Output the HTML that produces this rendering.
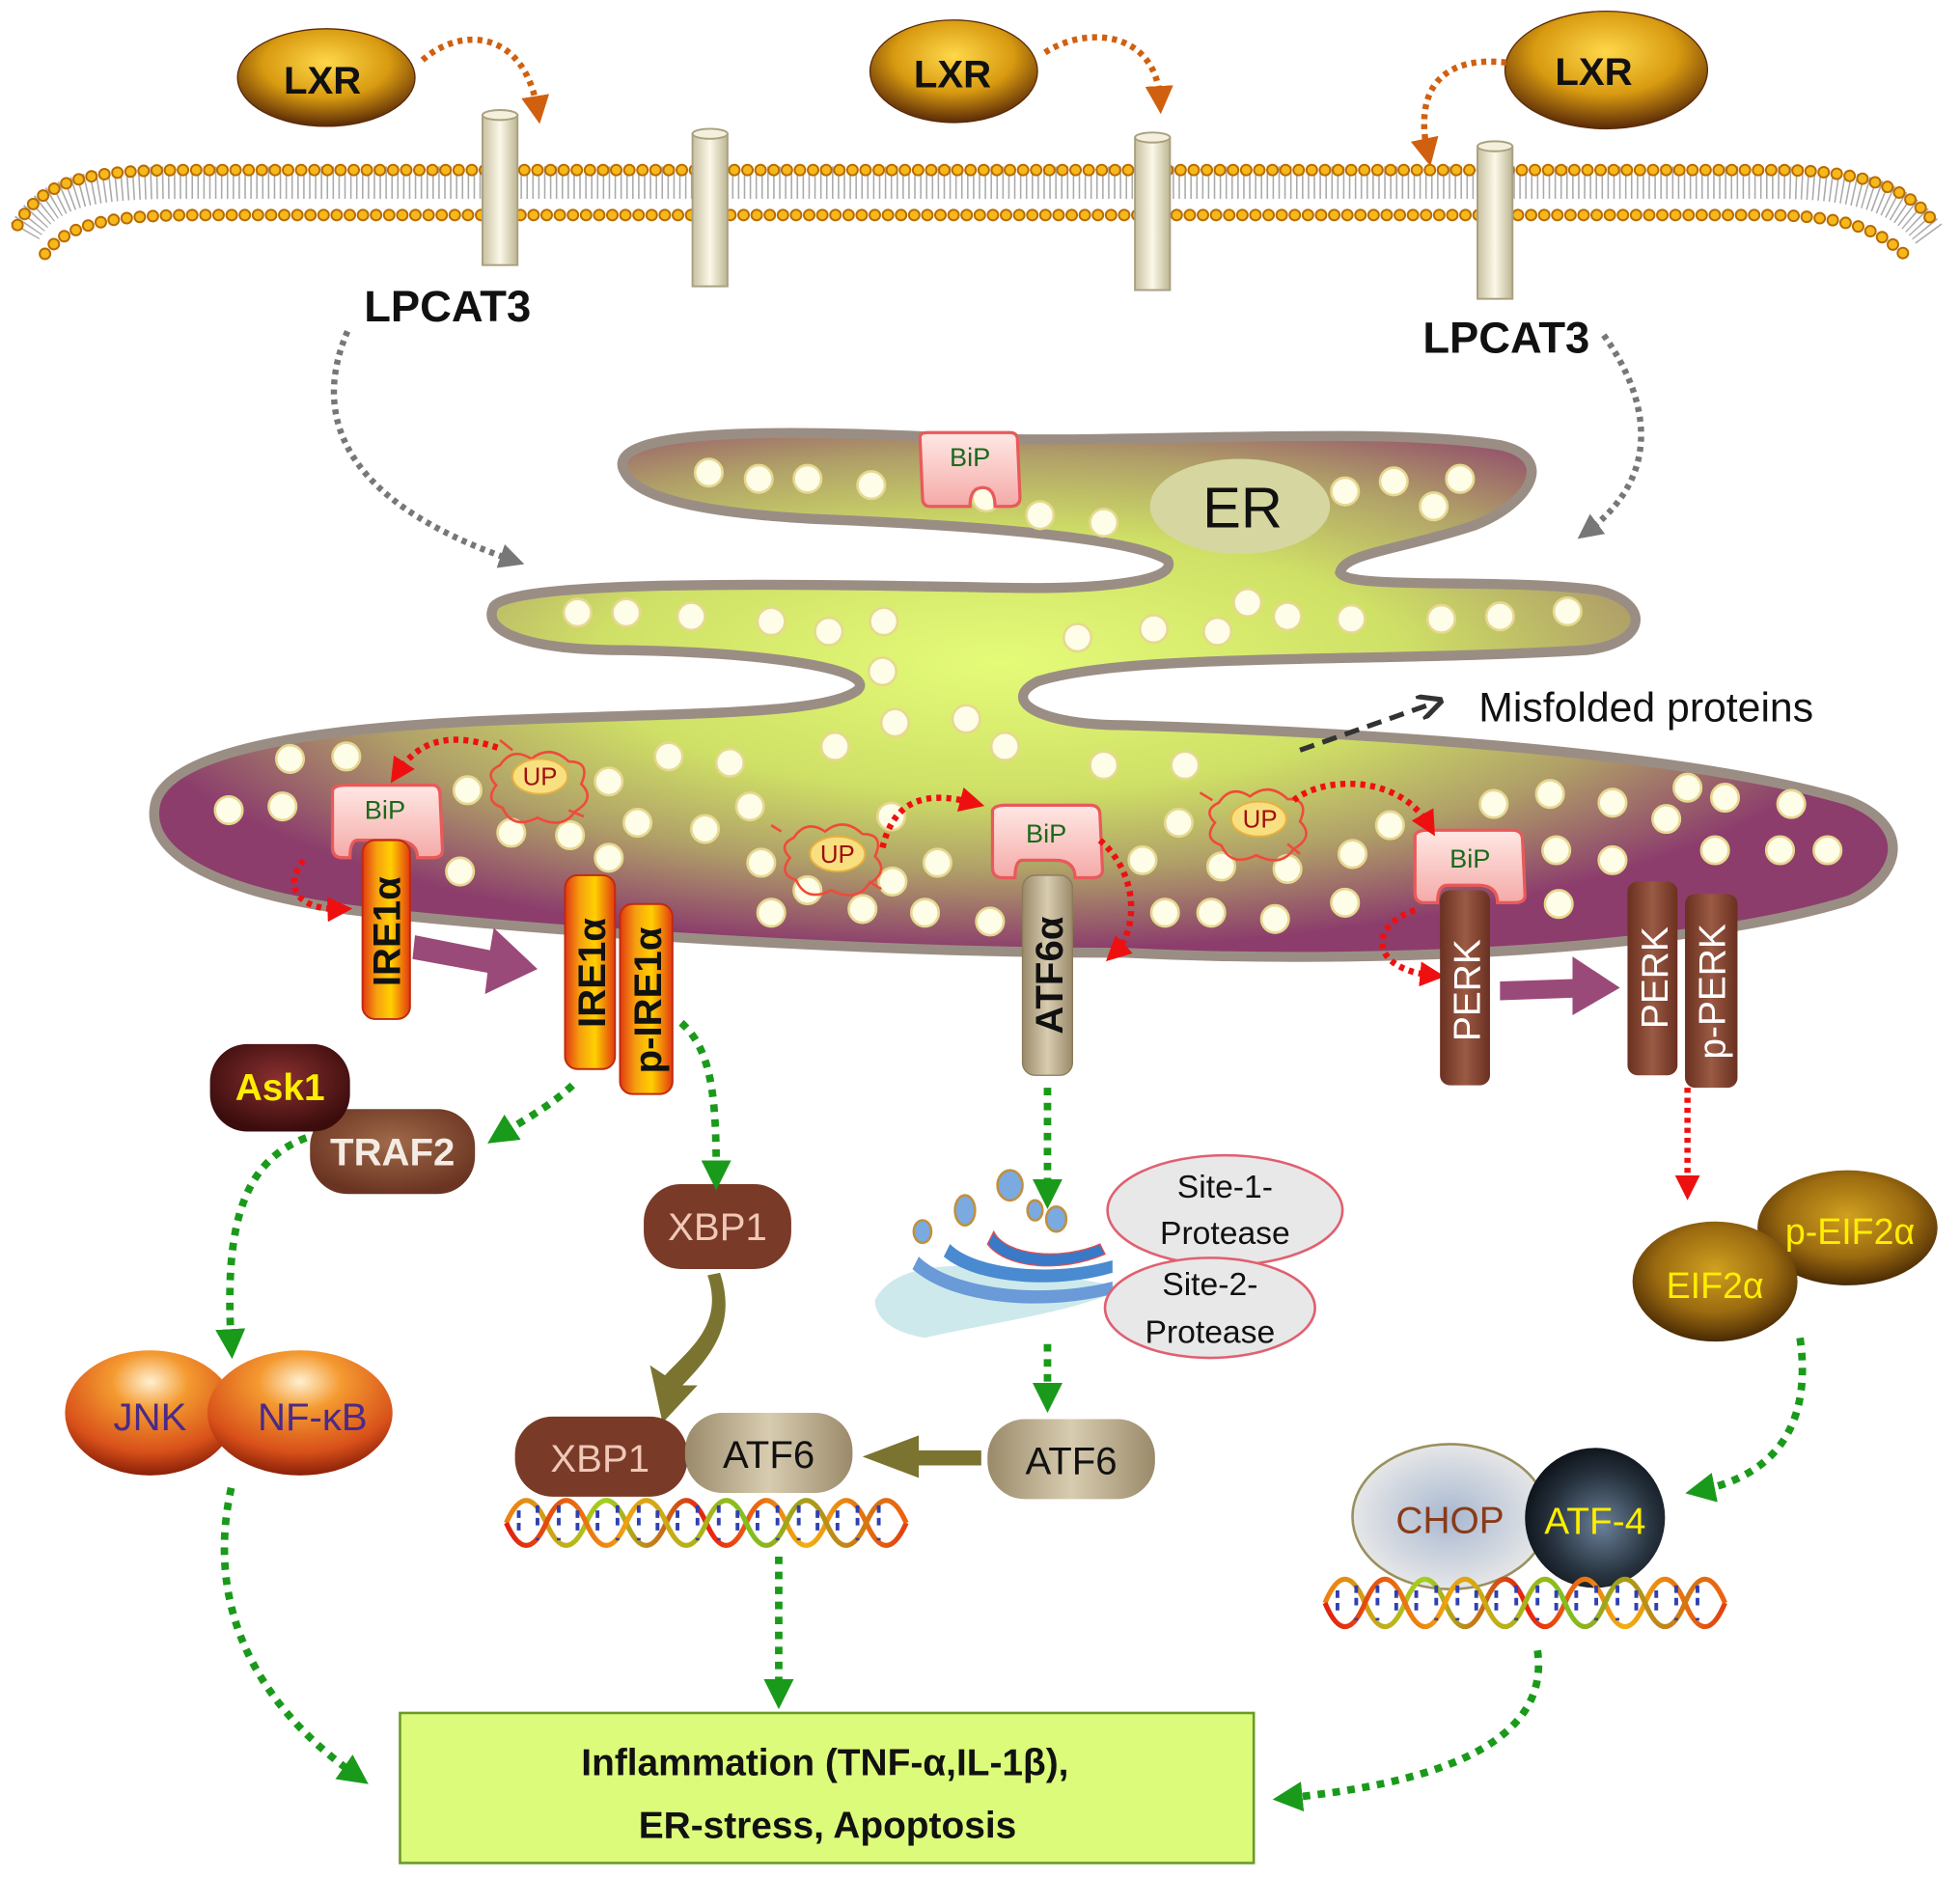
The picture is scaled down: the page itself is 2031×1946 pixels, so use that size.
<!DOCTYPE html>
<html><head><meta charset="utf-8"><style>
html,body{margin:0;padding:0;background:#fff;}
svg{display:block;}
text{font-family:"Liberation Sans",Arial,sans-serif;}
</style></head><body>
<svg width="2031" height="1946" viewBox="0 0 1568 1502" preserveAspectRatio="none" xmlns="http://www.w3.org/2000/svg">
<defs>
<radialGradient id="lxr" cx="50%" cy="35%" r="65%"><stop offset="0" stop-color="#ffd84a"/><stop offset="0.55" stop-color="#d89a10"/><stop offset="1" stop-color="#5a2a08"/></radialGradient>
<linearGradient id="cyl" x1="0" x2="1"><stop offset="0" stop-color="#c8c0a0"/><stop offset="0.5" stop-color="#fbf8e8"/><stop offset="1" stop-color="#bdb592"/></linearGradient>
<radialGradient id="er" gradientUnits="userSpaceOnUse" cx="800" cy="530" r="720" gradientTransform="translate(800,530) scale(1,0.32) translate(-800,-530)"><stop offset="0" stop-color="#e4fb78"/><stop offset="0.45" stop-color="#cfe066"/><stop offset="0.72" stop-color="#b0a068"/><stop offset="1" stop-color="#8c3d6c"/></radialGradient>
<linearGradient id="ire" x1="0" x2="1"><stop offset="0" stop-color="#e23a10"/><stop offset="0.3" stop-color="#f6a010"/><stop offset="0.6" stop-color="#ffd000"/><stop offset="1" stop-color="#e23a10"/></linearGradient>
<linearGradient id="atf" x1="0" x2="1"><stop offset="0" stop-color="#9a8a6a"/><stop offset="0.5" stop-color="#d8ccb0"/><stop offset="1" stop-color="#9a8a6a"/></linearGradient>
<linearGradient id="perk" x1="0" x2="1"><stop offset="0" stop-color="#6a3020"/><stop offset="0.5" stop-color="#9a5a44"/><stop offset="1" stop-color="#6a3020"/></linearGradient>
<linearGradient id="bip" x1="0" y1="0" x2="0" y2="1"><stop offset="0" stop-color="#ffe8e4"/><stop offset="1" stop-color="#f4aaa8"/></linearGradient>
<radialGradient id="brownball" cx="50%" cy="40%" r="60%"><stop offset="0" stop-color="#a06a4a"/><stop offset="1" stop-color="#6a3422"/></radialGradient>
<radialGradient id="ask" cx="50%" cy="40%" r="60%"><stop offset="0" stop-color="#8a3030"/><stop offset="1" stop-color="#3a0c0c"/></radialGradient>
<radialGradient id="jnk" cx="50%" cy="25%" r="75%"><stop offset="0" stop-color="#fff0d0"/><stop offset="0.3" stop-color="#f49a30"/><stop offset="0.75" stop-color="#d8501a"/><stop offset="1" stop-color="#8a2008"/></radialGradient>
<radialGradient id="eif" cx="50%" cy="40%" r="60%"><stop offset="0" stop-color="#d0a020"/><stop offset="0.6" stop-color="#9a6a10"/><stop offset="1" stop-color="#4a2a04"/></radialGradient>
<radialGradient id="atf4" cx="55%" cy="55%" r="60%"><stop offset="0" stop-color="#6a8098"/><stop offset="0.6" stop-color="#283440"/><stop offset="1" stop-color="#0a0e14"/></radialGradient>
<radialGradient id="chop" cx="50%" cy="50%" r="55%"><stop offset="0" stop-color="#a8b8d0"/><stop offset="1" stop-color="#ecebea"/></radialGradient>
<linearGradient id="dna1" x1="0" x2="1"><stop offset="0" stop-color="#f08010"/><stop offset="0.25" stop-color="#a0d020"/><stop offset="0.5" stop-color="#e82010"/><stop offset="0.75" stop-color="#f0b010"/><stop offset="1" stop-color="#e04010"/></linearGradient>
<linearGradient id="dna2" x1="0" x2="1"><stop offset="0" stop-color="#e02010"/><stop offset="0.3" stop-color="#f0a010"/><stop offset="0.6" stop-color="#80c020"/><stop offset="1" stop-color="#f06010"/></linearGradient>
<marker id="ag" viewBox="0 0 10 10" refX="5" refY="5" markerWidth="4" markerHeight="4" orient="auto"><path d="M0,0L10,5L0,10z" fill="#1a9a1a"/></marker>
<marker id="ar" viewBox="0 0 10 10" refX="5" refY="5" markerWidth="4" markerHeight="4" orient="auto"><path d="M0,0L10,5L0,10z" fill="#ee1010"/></marker>
<marker id="ao" viewBox="0 0 10 10" refX="5" refY="5" markerWidth="4.5" markerHeight="4.5" orient="auto"><path d="M0,0L10,5L0,10z" fill="#d06010"/></marker>
<marker id="agr" viewBox="0 0 10 10" refX="5" refY="5" markerWidth="4" markerHeight="4" orient="auto"><path d="M0,0L10,5L0,10z" fill="#777"/></marker>
<marker id="ak" viewBox="0 0 10 10" refX="5" refY="5" markerWidth="5" markerHeight="5" orient="auto"><path d="M0,0L10,5L0,10" fill="none" stroke="#333" stroke-width="2"/></marker>
</defs>

<path d="M20,185 C40,150 80,146 150,146 L1420,146 C1490,146 1525,160 1545,190" fill="none" stroke="#aaa" stroke-width="26" stroke-dasharray="1.2 3.5"/>
<path d="M14,180 C35,142 75,136 150,136 L1420,136 C1495,136 1530,152 1550,182" fill="none" stroke="#b86a00" stroke-width="10" stroke-dasharray="0 10.5" stroke-linecap="round"/>
<path d="M14,180 C35,142 75,136 150,136 L1420,136 C1495,136 1530,152 1550,182" fill="none" stroke="#f6b81a" stroke-width="7" stroke-dasharray="0 10.5" stroke-linecap="round"/>
<path d="M36,203 C55,178 90,172 160,172 L1410,172 C1480,172 1505,185 1525,205" fill="none" stroke="#b86a00" stroke-width="10" stroke-dasharray="0 10.5" stroke-linecap="round"/>
<path d="M36,203 C55,178 90,172 160,172 L1410,172 C1480,172 1505,185 1525,205" fill="none" stroke="#f6b81a" stroke-width="7" stroke-dasharray="0 10.5" stroke-linecap="round"/>

<g stroke="#a8a080" stroke-width="1.5">
<rect x="386" y="92" width="28" height="120" fill="url(#cyl)"/><ellipse cx="400" cy="92" rx="14" ry="4" fill="#f4f0dc"/>
<rect x="554" y="107" width="28" height="122" fill="url(#cyl)"/><ellipse cx="568" cy="107" rx="14" ry="4" fill="#f4f0dc"/>
<rect x="908" y="110" width="28" height="122" fill="url(#cyl)"/><ellipse cx="922" cy="110" rx="14" ry="4" fill="#f4f0dc"/>
<rect x="1182" y="117" width="28" height="122" fill="url(#cyl)"/><ellipse cx="1196" cy="117" rx="14" ry="4" fill="#f4f0dc"/>
</g>

<ellipse cx="261" cy="62" rx="71" ry="39" fill="url(#lxr)" stroke="#5a2a08" stroke-width="1"/>
<text x="258" y="75" font-size="31" font-weight="bold" text-anchor="middle" fill="#111">LXR</text>
<ellipse cx="763" cy="57" rx="67" ry="41" fill="url(#lxr)" stroke="#5a2a08" stroke-width="1"/>
<text x="762" y="70" font-size="31" font-weight="bold" text-anchor="middle" fill="#111">LXR</text>
<ellipse cx="1285" cy="56" rx="81" ry="47" fill="url(#lxr)" stroke="#5a2a08" stroke-width="1"/>
<text x="1275" y="68" font-size="31" font-weight="bold" text-anchor="middle" fill="#111">LXR</text>
<g fill="none" stroke="#d06010" stroke-width="5" stroke-dasharray="4 4">
<path d="M338,48 C370,20 420,25 430,88" marker-end="url(#ao)"/>
<path d="M836,42 C870,20 925,25 928,80" marker-end="url(#ao)"/>
<path d="M1205,50 C1160,45 1130,65 1142,122" marker-end="url(#ao)"/>
</g>

<text x="358" y="257" font-size="35" font-weight="bold" text-anchor="middle" fill="#111">LPCAT3</text>
<text x="1205" y="282" font-size="35" font-weight="bold" text-anchor="middle" fill="#111">LPCAT3</text>
<g fill="none" stroke="#777" stroke-width="5" stroke-dasharray="4 4">
<path d="M278,265 C250,330 270,400 410,448" marker-end="url(#agr)"/>
<path d="M1283,268 C1320,320 1330,380 1270,425" marker-end="url(#agr)"/>
</g>

<path d="M500,378 C480,345 600,342 760,350 C900,356 1100,340 1200,356 C1245,366 1225,402 1180,420 C1120,440 1075,442 1072,458 C1078,472 1200,462 1278,472 C1322,482 1318,515 1268,520 C1100,530 900,522 830,545 C800,560 830,580 900,580 C1100,586 1350,602 1478,640 C1530,660 1522,700 1480,720 C1350,760 1100,772 900,762 C700,762 450,746 300,730 C200,720 110,690 125,640 C140,600 250,582 400,576 C550,570 660,572 686,552 C702,536 620,522 500,520 C420,520 385,505 395,485 C410,465 600,466 800,470 C900,472 942,462 934,448 C905,430 780,420 650,415 C560,410 510,398 500,378 Z" fill="url(#er)" stroke="#9a8e84" stroke-width="8"/>
<g fill="#fdfde8" stroke="#e6d890" stroke-width="2">
<circle cx="567" cy="378" r="11"/><circle cx="607" cy="383" r="11"/><circle cx="646" cy="383" r="11"/><circle cx="697" cy="388" r="11"/><circle cx="789" cy="398" r="11"/><circle cx="832" cy="412" r="11"/><circle cx="883" cy="418" r="11"/><circle cx="1076" cy="393" r="11"/><circle cx="1115" cy="385" r="11"/><circle cx="1147" cy="405" r="11"/><circle cx="1168" cy="383" r="11"/>
<circle cx="462" cy="490" r="11"/><circle cx="501" cy="490" r="11"/><circle cx="553" cy="493" r="11"/><circle cx="617" cy="497" r="11"/><circle cx="663" cy="505" r="11"/><circle cx="707" cy="497" r="11"/><circle cx="706" cy="537" r="11"/><circle cx="862" cy="510" r="11"/><circle cx="923" cy="503" r="11"/><circle cx="974" cy="505" r="11"/><circle cx="998" cy="482" r="11"/><circle cx="1030" cy="493" r="11"/><circle cx="1081" cy="495" r="11"/><circle cx="1153" cy="495" r="11"/><circle cx="1200" cy="493" r="11"/><circle cx="1254" cy="489" r="11"/>
<circle cx="716" cy="578" r="11"/><circle cx="773" cy="575" r="11"/><circle cx="804" cy="597" r="11"/><circle cx="668" cy="597" r="11"/>
<circle cx="232" cy="607" r="11"/><circle cx="277" cy="605" r="11"/><circle cx="183" cy="648" r="11"/><circle cx="226" cy="645" r="11"/><circle cx="374" cy="632" r="11"/><circle cx="487" cy="625" r="11"/><circle cx="535" cy="605" r="11"/><circle cx="584" cy="610" r="11"/><circle cx="600" cy="645" r="11"/><circle cx="487" cy="686" r="11"/><circle cx="456" cy="668" r="11"/><circle cx="409" cy="666" r="11"/><circle cx="510" cy="658" r="11"/><circle cx="564" cy="663" r="11"/><circle cx="368" cy="697" r="11"/><circle cx="609" cy="690" r="11"/><circle cx="646" cy="712" r="11"/><circle cx="690" cy="727" r="11"/><circle cx="714" cy="705" r="11"/><circle cx="740" cy="730" r="11"/><circle cx="750" cy="690" r="11"/><circle cx="617" cy="730" r="11"/><circle cx="792" cy="737" r="11"/><circle cx="883" cy="612" r="11"/><circle cx="914" cy="688" r="11"/><circle cx="943" cy="658" r="11"/><circle cx="977" cy="693" r="11"/><circle cx="932" cy="730" r="11"/><circle cx="969" cy="730" r="11"/><circle cx="1020" cy="735" r="11"/><circle cx="1030" cy="695" r="11"/><circle cx="1082" cy="683" r="11"/><circle cx="1112" cy="660" r="11"/><circle cx="1076" cy="722" r="11"/><circle cx="948" cy="612" r="11"/><circle cx="1195" cy="643" r="11"/><circle cx="1240" cy="635" r="11"/><circle cx="1290" cy="642" r="11"/><circle cx="1333" cy="655" r="11"/><circle cx="1350" cy="630" r="11"/><circle cx="1380" cy="638" r="11"/><circle cx="1433" cy="643" r="11"/><circle cx="1424" cy="680" r="11"/><circle cx="1462" cy="680" r="11"/><circle cx="1245" cy="680" r="11"/><circle cx="1290" cy="688" r="11"/><circle cx="1247" cy="723" r="11"/><circle cx="1372" cy="680" r="11"/><circle cx="713" cy="653" r="11"/>
</g>
<ellipse cx="992" cy="405" rx="72" ry="38" fill="#d6d6a0"/>
<text x="994" y="422" font-size="46" text-anchor="middle" fill="#111">ER</text>

<path d="M1040,600 L1145,563" stroke="#333" stroke-width="4" stroke-dasharray="12 7" fill="none" marker-end="url(#ak)"/>
<text x="1183" y="577" font-size="33" fill="#111">Misfolded proteins</text>

<g stroke="#e85a5a" stroke-width="2.5" fill="url(#bip)">
<path d="M736,350 Q736,346 742,346 L808,346 Q814,346 814,352 L816,398 Q816,405 808,405 L796,405 Q796,390 786,390 Q776,390 776,405 L744,405 Q738,405 738,398 Z"/>
<path d="M266,632 Q268,628 276,628 L346,628 Q352,628 352,636 L354,680 Q354,686 346,686 L334,686 Q334,672 314,672 L286,672 Q280,672 280,686 L274,686 Q266,686 266,678 Z"/>
<path d="M794,648 Q796,644 804,644 L872,644 Q880,644 880,652 L882,696 Q882,702 874,702 L860,702 Q860,688 844,688 L818,688 Q812,688 812,702 L802,702 Q794,702 794,694 Z"/>
<path d="M1132,668 Q1134,664 1142,664 L1210,664 Q1218,664 1218,672 L1220,716 Q1220,722 1212,722 L1198,722 Q1198,708 1182,708 L1158,708 Q1150,708 1150,722 L1140,722 Q1132,722 1132,714 Z"/>
</g>
<g font-size="21" fill="#1a6a1a" text-anchor="middle">
<text x="776" y="373">BiP</text><text x="308" y="655">BiP</text><text x="837" y="674">BiP</text><text x="1176" y="694">BiP</text>
</g>

<g fill="none" stroke="#f04a3a" stroke-width="2">
<path d="M400,612 q10,-15 25,-5 q15,-12 30,2 q18,0 10,18 q12,12 -5,22 q-10,15 -30,5 q-20,10 -28,-8 q-15,-5 -5,-18 q-10,-10 3,-16z M410,600 l-10,-8 M455,648 l12,5"/>
<path d="M635,670 q10,-15 25,-5 q15,-12 30,2 q18,0 10,18 q12,12 -5,22 q-10,15 -30,5 q-20,10 -28,-8 q-15,-5 -5,-18 q-10,-10 3,-16z M625,665 l-8,-5 M695,705 l10,6"/>
<path d="M975,642 q10,-15 25,-5 q15,-12 30,2 q18,0 10,18 q12,12 -5,22 q-10,15 -30,5 q-20,10 -28,-8 q-15,-5 -5,-18 q-10,-10 3,-16z M970,640 l-10,-6 M1030,675 l10,8"/>
</g>
<g fill="#f8e080" stroke="#e8b040" stroke-width="1.5">
<ellipse cx="432" cy="621" rx="22" ry="14"/><ellipse cx="670" cy="683" rx="22" ry="14"/><ellipse cx="1007" cy="655" rx="22" ry="14"/>
</g>
<g font-size="20" fill="#a01010" text-anchor="middle">
<text x="432" y="628">UP</text><text x="670" y="690">UP</text><text x="1008" y="662">UP</text>
</g>

<g fill="none" stroke="#ee1010" stroke-width="5" stroke-dasharray="4 4">
<path d="M398,598 C360,585 335,592 318,618" marker-end="url(#ar)"/>
<path d="M243,688 C225,710 240,728 272,727" marker-end="url(#ar)"/>
<path d="M706,678 C715,640 740,632 778,642" marker-end="url(#ar)"/>
<path d="M880,672 C912,700 910,745 892,762" marker-end="url(#ar)"/>
<path d="M1035,640 C1060,620 1120,620 1143,660" marker-end="url(#ar)"/>
<path d="M1132,728 C1095,740 1095,775 1146,780" marker-end="url(#ar)"/>
<path d="M1350,870 L1350,950" marker-end="url(#ar)"/>
</g>

<rect x="290" y="672" width="38" height="143" rx="10" fill="url(#ire)" stroke="#c02a10" stroke-width="1.5"/>
<text transform="translate(320,745) rotate(-90)" font-size="31" font-weight="bold" text-anchor="middle" fill="#111">IRE1α</text>
<rect x="452" y="700" width="40" height="155" rx="10" fill="url(#ire)" stroke="#c02a10" stroke-width="1.5"/>
<text transform="translate(484,778) rotate(-90)" font-size="31" font-weight="bold" text-anchor="middle" fill="#111">IRE1α</text>
<rect x="496" y="723" width="42" height="152" rx="10" fill="url(#ire)" stroke="#c02a10" stroke-width="1.5"/>
<text transform="translate(529,800) rotate(-90)" font-size="31" font-weight="bold" text-anchor="middle" fill="#111">p-IRE1α</text>
<rect x="818" y="700" width="40" height="160" rx="10" fill="url(#atf)" stroke="#8a7a5a" stroke-width="1"/>
<text transform="translate(850,780) rotate(-90)" font-size="31" font-weight="bold" text-anchor="middle" fill="#111">ATF6α</text>
<rect x="1152" y="712" width="40" height="156" rx="8" fill="url(#perk)"/>
<text transform="translate(1184,792) rotate(-90)" font-size="30" text-anchor="middle" fill="#fff">PERK</text>
<rect x="1302" y="705" width="40" height="155" rx="8" fill="url(#perk)"/>
<text transform="translate(1334,782) rotate(-90)" font-size="30" text-anchor="middle" fill="#fff">PERK</text>
<rect x="1348" y="715" width="42" height="155" rx="8" fill="url(#perk)"/>
<text transform="translate(1380,793) rotate(-90)" font-size="30" text-anchor="middle" fill="#fff">p-PERK</text>

<path d="M332,748 L392,760 L395,742 L430,775 L388,795 L390,778 L330,767 Z" fill="#9a4a78"/>
<path d="M1200,785 L1258,783 L1258,765 L1296,790 L1258,812 L1258,798 L1200,800 Z" fill="#9a4a78"/>

<rect x="248" y="887" width="132" height="68" rx="30" fill="url(#brownball)"/>
<text x="314" y="932" font-size="31" font-weight="bold" text-anchor="middle" fill="#f4ece4">TRAF2</text>
<rect x="168" y="835" width="112" height="70" rx="30" fill="url(#ask)"/>
<text x="224" y="880" font-size="30" font-weight="bold" text-anchor="middle" fill="#ffee00">Ask1</text>

<rect x="515" y="947" width="118" height="68" rx="30" fill="#7a3a28"/>
<text x="574" y="992" font-size="31" text-anchor="middle" fill="#f0c8b8">XBP1</text>

<ellipse cx="120" cy="1130" rx="68" ry="50" fill="url(#jnk)"/>
<ellipse cx="240" cy="1130" rx="74" ry="50" fill="url(#jnk)"/>
<text x="120" y="1144" font-size="31" text-anchor="middle" fill="#4a2a88">JNK</text>
<text x="250" y="1144" font-size="31" text-anchor="middle" fill="#4a2a88">NF-κB</text>

<path d="M700,1040 C720,1000 800,1010 900,1030 C860,1050 780,1060 740,1070 C710,1065 700,1052 700,1040Z" fill="#b8e0e4" opacity="0.7"/>
<path d="M735,1005 C760,1030 830,1040 890,1025 L890,1035 C830,1050 760,1042 730,1015Z" fill="#6a9ad8"/>
<path d="M760,995 C780,1015 840,1022 890,1008 L890,1018 C840,1032 780,1026 755,1005Z" fill="#4a8ad0"/>
<path d="M795,985 C805,1005 850,1008 880,995 L884,1003 C850,1018 805,1015 790,995Z" fill="#3a78c8" stroke="#e05050" stroke-width="1"/>
<g fill="#7aaae0" stroke="#c09040" stroke-width="2">
<ellipse cx="772" cy="968" rx="8" ry="12"/><ellipse cx="808" cy="948" rx="10" ry="12"/><ellipse cx="828" cy="968" rx="6" ry="8"/><ellipse cx="845" cy="975" rx="8" ry="10"/><ellipse cx="738" cy="985" rx="7" ry="9"/>
</g>
<ellipse cx="980" cy="968" rx="94" ry="44" fill="#e8e8e8" stroke="#e06070" stroke-width="2"/>
<text x="980" y="958" font-size="26" text-anchor="middle" fill="#111">Site-1-</text>
<text x="980" y="995" font-size="26" text-anchor="middle" fill="#111">Protease</text>
<ellipse cx="968" cy="1046" rx="84" ry="40" fill="#e8e8e8" stroke="#e06070" stroke-width="2"/>
<text x="968" y="1036" font-size="26" text-anchor="middle" fill="#111">Site-2-</text>
<text x="968" y="1074" font-size="26" text-anchor="middle" fill="#111">Protease</text>

<rect x="790" y="1135" width="134" height="64" rx="30" fill="url(#atf)"/>
<text x="857" y="1179" font-size="31" text-anchor="middle" fill="#111">ATF6</text>
<path d="M785,1160 L735,1160 L735,1148 L690,1165 L735,1182 L735,1172 L785,1172Z" fill="#7a7430"/>
<path d="M566,1020 C580,1060 550,1080 532,1100 L520,1092 L530,1138 L558,1108 L546,1108 C568,1085 590,1060 576,1018Z" fill="#7a7430"/>

<rect x="412" y="1133" width="138" height="64" rx="30" fill="#7a3a28"/>
<text x="480" y="1177" font-size="31" text-anchor="middle" fill="#f0c8b8">XBP1</text>
<rect x="548" y="1130" width="134" height="64" rx="30" fill="url(#atf)"/>
<text x="615" y="1174" font-size="31" text-anchor="middle" fill="#111">ATF6</text>

<g fill="none" stroke-width="4">
<path d="M405,1230 q16,-36 32,0 t32,0 t32,0 t32,0 t32,0 t32,0 t32,0 t32,0 t32,0 t32,0" stroke="url(#dna1)" transform="translate(0,-12)"/>
<path d="M405,1218 q16,36 32,0 t32,0 t32,0 t32,0 t32,0 t32,0 t32,0 t32,0 t32,0 t32,0" stroke="url(#dna2)"/>
</g>
<path d="M415,1208 v20 M430,1204 v28 M447,1204 v28 M462,1208 v20 M478,1208 v20 M494,1204 v28 M511,1204 v28 M526,1208 v20 M542,1208 v20 M558,1204 v28 M575,1204 v28 M590,1208 v20 M606,1208 v20 M622,1204 v28 M639,1204 v28 M654,1208 v20 M670,1208 v20 M686,1204 v28 M703,1204 v28" stroke="#3040b0" stroke-width="3" stroke-dasharray="6 4 6 10"/>

<ellipse cx="1478" cy="982" rx="72" ry="46" fill="url(#eif)"/>
<text x="1480" y="995" font-size="29" text-anchor="middle" fill="#ffee00">p-EIF2α</text>
<ellipse cx="1372" cy="1025" rx="66" ry="48" fill="url(#eif)"/>
<text x="1372" y="1038" font-size="29" text-anchor="middle" fill="#ffee00">EIF2α</text>

<ellipse cx="1160" cy="1213" rx="78" ry="58" fill="url(#chop)" stroke="#9a9060" stroke-width="2"/>
<text x="1160" y="1226" font-size="30" text-anchor="middle" fill="#8a3a18">CHOP</text>
<circle cx="1276" cy="1214" r="56" fill="url(#atf4)"/>
<text x="1276" y="1227" font-size="30" text-anchor="middle" fill="#ffee00">ATF-4</text>

<g fill="none" stroke-width="4">
<path d="M1060,1296 q16,-38 32,0 t32,0 t32,0 t32,0 t32,0 t32,0 t32,0 t32,0 t32,0 t32,0" stroke="url(#dna1)" transform="translate(0,-14)"/>
<path d="M1060,1282 q16,38 32,0 t32,0 t32,0 t32,0 t32,0 t32,0 t32,0 t32,0 t32,0 t32,0" stroke="url(#dna2)"/>
</g>
<path d="M1070,1272 v20 M1085,1268 v28 M1102,1268 v28 M1117,1272 v20 M1133,1272 v20 M1149,1268 v28 M1166,1268 v28 M1181,1272 v20 M1197,1272 v20 M1213,1268 v28 M1230,1268 v28 M1245,1272 v20 M1261,1272 v20 M1277,1268 v28 M1294,1268 v28 M1309,1272 v20 M1325,1272 v20 M1341,1268 v28 M1358,1268 v28" stroke="#3040b0" stroke-width="3" stroke-dasharray="6 4 6 10"/>

<g fill="none" stroke="#1a9a1a" stroke-width="6" stroke-dasharray="6 6">
<path d="M458,868 C440,885 420,895 400,908" marker-end="url(#ag)"/>
<path d="M545,818 C570,840 573,880 573,940" marker-end="url(#ag)"/>
<path d="M838,870 L838,955" marker-end="url(#ag)"/>
<path d="M838,1075 L838,1118" marker-end="url(#ag)"/>
<path d="M245,910 C190,930 180,990 185,1075" marker-end="url(#ag)"/>
<path d="M1440,1070 C1450,1140 1420,1180 1360,1192" marker-end="url(#ag)"/>
<path d="M623,1245 L623,1355" marker-end="url(#ag)"/>
<path d="M185,1190 C165,1280 200,1360 285,1420" marker-end="url(#ag)"/>
<path d="M1230,1320 C1240,1390 1160,1425 1030,1438" marker-end="url(#ag)"/>
</g>

<rect x="320" y="1370" width="683" height="120" fill="#dcfb7a" stroke="#6a9a2a" stroke-width="2"/>
<text x="660" y="1420" font-size="30" font-weight="bold" text-anchor="middle" fill="#111">Inflammation (TNF-α,IL-1β),</text>
<text x="662" y="1470" font-size="30" font-weight="bold" text-anchor="middle" fill="#111">ER-stress,  Apoptosis</text>
</svg>
</body></html>
